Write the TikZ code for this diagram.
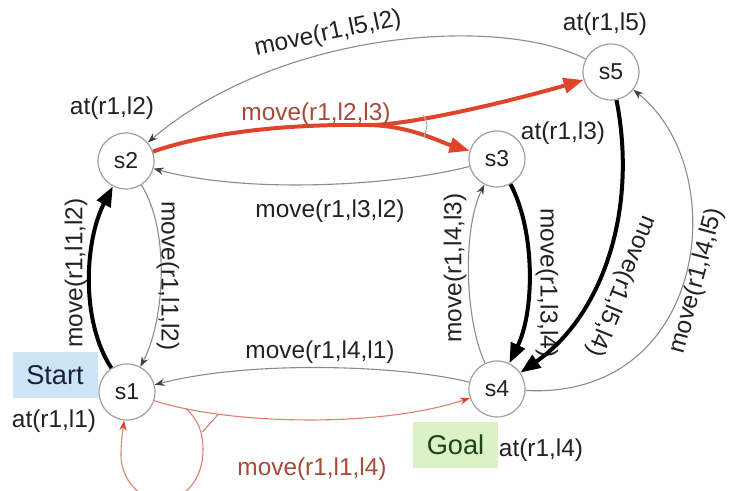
\documentclass[tikz,border=0pt]{standalone}
\usepackage{fontspec}
\setmainfont{Liberation Sans}
\usetikzlibrary{arrows.meta}
\definecolor{edgegray}{HTML}{8C8C8C}
\definecolor{circgray}{HTML}{A0A0A0}
\definecolor{redthick}{HTML}{E0452B}
\definecolor{redthin}{HTML}{E08070}
\definecolor{redtext}{HTML}{A84A3A}
\definecolor{txt}{HTML}{222222}
\definecolor{startblue}{HTML}{CCE5F5}
\definecolor{goalgreen}{HTML}{DCF2C4}
\begin{document}
\begin{tikzpicture}[x=0.5pt,y=-0.5pt,
  state/.style={circle,draw=circgray,line width=0.6pt,minimum size=28pt,inner sep=0pt,
    font=\fontsize{11.5}{12}\selectfont,text=txt},
  lbl/.style={font=\fontsize{12.2}{13}\selectfont,text=txt,inner sep=0pt},
  redlbl/.style={lbl,text=redtext},
  tagbox/.style={inner sep=0pt,minimum width=42.5pt,minimum height=23pt,
    font=\fontsize{13.6}{14}\selectfont},
  thinedge/.style={draw=edgegray,line width=0.55pt,
    -{Stealth[length=5pt,width=3.6pt,color=black!75]}},
  redthinedge/.style={draw=redthin,line width=0.55pt,
    -{Stealth[length=5pt,width=3.6pt,color=redthick]}},
  thickedge/.style={draw=black,line width=2pt,
    -{Triangle[length=10pt,width=7.5pt]}},
  redthickedge/.style={draw=redthick,line width=2pt,
    -{Triangle[length=10pt,width=7.5pt]}},
  redthickline/.style={draw=redthick,line width=2pt}
]
\useasboundingbox (0,0) rectangle (729,491);
\clip (0,0) rectangle (729,491);
\fill[white] (0,0) rectangle (729,491);

% tags
\node[tagbox,fill=startblue,text=txt!85!blue] (start) at (55,375) {Start};
\node[tagbox,fill=goalgreen,text=txt!85!green] (goal) at (455.5,445) {Goal};

% states
\node[state] (s1) at (127,392) {s1};
\node[state] (s2) at (126,161) {s2};
\node[state] (s3) at (497,159) {s3};
\node[state] (s4) at (497,389) {s4};
\node[state] (s5) at (611,72) {s5};

% state labels
\node[lbl] (a2) at (112,108) {at(r1,l2)};
\node[lbl] (a5) at (605,24) {at(r1,l5)};
\node[lbl] (a3) at (563,133) {at(r1,l3)};
\node[lbl] (a1) at (54,421) {at(r1,l1)};
\node[lbl] (a4) at (541,450) {at(r1,l4)};

% s5 -> s2
\draw[thinedge] (s5) .. controls (500,15) and (280,30) .. (s2);
\node[lbl,rotate=12] (m52) at (328,34) {move(r1,l5,l2)};

% s2 -> s5 and s2 -> s3 (red, nondeterministic)
\coordinate (bp) at (368,125);
\draw[redthickline] (s2) .. controls (215,130) and (300,124) .. (bp);
\draw[redthickedge] (bp) .. controls (410,125.6) and (515,100) .. (s5);
\draw[redthickedge] (bp) .. controls (410,125.6) and (440,142) .. (s3);
\draw[draw=edgegray!70,line width=0.5pt] (423,115) .. controls (428,124) .. (424,137);
\node[redlbl] (m23) at (316,114) {move(r1,l2,l3)};

% s3 -> s2
\draw[thinedge] (s3) .. controls (400,185) and (250,195) .. (s2);
\node[lbl] (m32) at (330,211) {move(r1,l3,l2)};

% s1 -> s2
\draw[thickedge] (s1) .. controls (80,320) and (85,240) .. (s2);
\node[lbl,rotate=90] (m12a) at (76,273) {move(r1,l1,l2)};

% s2 -> s1
\draw[thinedge] (s2) .. controls (170,230) and (165,320) .. (s1);
\node[lbl,rotate=-90] (m12b) at (168,276) {move(r1,l1,l2)};

% s4 -> s1
\draw[thinedge] (s4) .. controls (400,365) and (250,360) .. (s1);
\node[lbl] (m41) at (320,352) {move(r1,l4,l1)};

% s1 -> s4 and s1 -> s1 (red, nondeterministic)
\draw[redthinedge] (s1) .. controls (230,425) and (380,428) .. (s4);
\coordinate (br) at (186,408.5);
\coordinate (lb) at (162,500);
\draw[redthinedge] (br) .. controls (197,419) and (203,430) .. (203,450)
   .. controls (203,478) and (186,500) .. (lb)
   .. controls (138,500) and (121,478) .. (121,455)
   .. controls (121,440) and (123,430) .. (s1);
\draw[draw=redthin!70!gray,line width=0.5pt] (202.5,432) -- (218,414.5);
\node[redlbl] (m14) at (312,469) {move(r1,l1,l4)};

% s4 -> s3
\draw[thinedge] (s4) .. controls (465,320) and (462,230) .. (s3);
\node[lbl,rotate=90] (m43) at (455,268) {move(r1,l4,l3)};

% s3 -> s4
\draw[thickedge] (s3) .. controls (535,230) and (535,310) .. (s4);
\node[lbl,rotate=-90] (m34) at (547,283) {move(r1,l3,l4)};

% s5 -> s4
\draw[thickedge] (s5) .. controls (638,210) and (603,315) .. (s4);
\node[lbl,rotate=-112] (m54) at (621,286) {move(r1,l5,l4)};

% s4 -> s5
\draw[thinedge] (s4) .. controls (708,400) and (734,170) .. (s5);
\node[lbl,rotate=75] (m45) at (697,281) {move(r1,l4,l5)};
\end{tikzpicture}
\end{document}
